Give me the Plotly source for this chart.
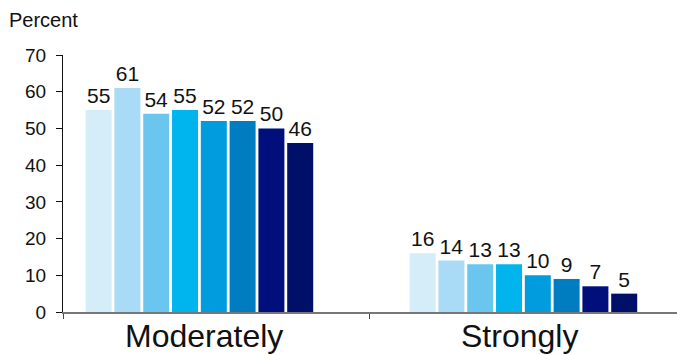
import plotly.graph_objects as go

categories = ["Moderately", "Strongly"]
series_names = ["S1", "S2", "S3", "S4", "S5", "S6", "S7", "S8"]
values = [
    [55, 16],
    [61, 14],
    [54, 13],
    [55, 13],
    [52, 10],
    [52, 9],
    [50, 7],
    [46, 5],
]
colors = ["#D5ECF9", "#A9DBF6", "#6AC6EE", "#00B5EE",
          "#009CDE", "#007DC1", "#000F7C", "#001068"]
y_ticks = [0, 10, 20, 30, 40, 50, 60, 70]

# categories sit at integer positions on a numeric axis
cat_pos = list(range(len(categories)))
cat_label_shift = [5, -4]
x_range = [-0.421, 1.474]
boundary_ticks = [-0.421, 0.526]

fig = go.Figure()
for name, vals, col in zip(series_names, values, colors):
    fig.add_trace(go.Bar(
        name=name, x=cat_pos, y=vals,
        marker=dict(color=col, line=dict(width=0)),
        text=[str(v) for v in vals], textposition="outside",
        textfont=dict(size=21, color="#111111", family="Liberation Sans"),
        cliponaxis=False,
    ))

fig.update_layout(
    width=677, height=355,
    margin=dict(l=63, r=0, t=55, b=43),
    barmode="group", bargap=0.289, bargroupgap=0.097,
    plot_bgcolor="white", paper_bgcolor="white",
    showlegend=False,
    font=dict(family="Liberation Sans", color="#111111"),
)
fig.update_xaxes(
    range=x_range, tickvals=boundary_ticks, ticktext=["", ""],
    ticks="outside", ticklen=5, tickcolor="#444444",
    showline=True, linecolor="#777777", linewidth=1.5,
    showgrid=False, zeroline=False,
)
fig.update_yaxes(
    range=[0, 70], tickvals=y_ticks, ticks="outside", ticklen=6,
    tickcolor="#111111", showline=True, linecolor="#111111", linewidth=1,
    ticklabelstandoff=6,
    tickfont=dict(size=19, family="Liberation Sans", color="#111111"),
    showgrid=False, zeroline=False,
)

for pos, cat, shift in zip(cat_pos, categories, cat_label_shift):
    fig.add_annotation(
        text=cat, x=pos, xref="x", y=0, yref="paper",
        yanchor="top", yshift=-4, xshift=shift, showarrow=False,
        font=dict(size=32, family="Liberation Sans", color="#111111"),
    )

fig.add_annotation(
    text="Percent", xref="paper", yref="paper", x=-63 / 614, y=1 + 35 / 257,
    xanchor="left", yanchor="middle", showarrow=False, xshift=7,
    font=dict(size=20, family="Liberation Sans", color="#111111"),
)

fig.write_html("out.html")
